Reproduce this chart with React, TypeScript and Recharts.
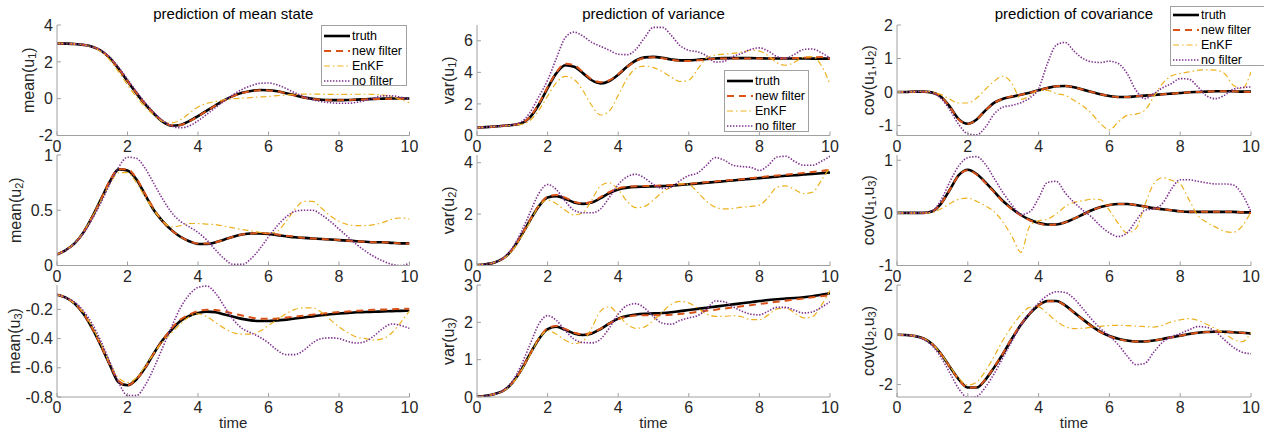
import React from 'react'
import { LineChart, Line, XAxis, YAxis } from 'recharts'

// time grid shared by every panel
const T = [0, 0.25, 0.5, 0.75, 1, 1.25, 1.5, 1.75, 2, 2.25, 2.5, 2.75, 3, 3.25, 3.5, 3.75, 4, 4.25, 4.5, 4.75, 5,
  5.25, 5.5, 5.75, 6, 6.25, 6.5, 6.75, 7, 7.25, 7.5, 7.75, 8, 8.25, 8.5, 8.75, 9, 9.25, 9.5, 9.75, 10]
const X_TICKS = [0, 2, 4, 6, 8, 10]

// mean(u1)
const meanU1Truth = [3.00, 2.99, 2.97, 2.92, 2.82, 2.60, 2.20, 1.62, 0.95, 0.30, -0.30, -0.82, -1.25, -1.47, -1.43, -1.22, -0.95, -0.65, -0.36, -0.08, 0.15, 0.32, 0.42, 0.47, 0.46, 0.40, 0.30, 0.18, 0.07, -0.01, -0.06, -0.08, -0.08, -0.07, -0.05, -0.03, -0.01, 0.00, 0.01, 0.01, 0.01]
const meanU1New = [3.00, 2.99, 2.97, 2.92, 2.82, 2.61, 2.21, 1.63, 0.96, 0.31, -0.29, -0.81, -1.24, -1.46, -1.43, -1.23, -0.96, -0.66, -0.37, -0.09, 0.14, 0.31, 0.41, 0.46, 0.45, 0.39, 0.29, 0.17, 0.06, -0.02, -0.06, -0.08, -0.08, -0.07, -0.05, -0.03, -0.02, -0.01, 0.00, 0.00, 0.00]
const meanU1Enkf = [3.00, 2.99, 2.97, 2.92, 2.80, 2.55, 2.10, 1.45, 0.75, 0.10, -0.45, -0.90, -1.22, -1.32, -1.15, -0.80, -0.45, -0.26, -0.15, -0.06, 0.00, 0.03, 0.06, 0.09, 0.12, 0.16, 0.20, 0.23, 0.25, 0.25, 0.24, 0.23, 0.23, 0.23, 0.24, 0.24, 0.23, 0.20, 0.12, -0.05, -0.22]
const meanU1NoF = [3.00, 2.99, 2.97, 2.92, 2.82, 2.62, 2.25, 1.70, 1.05, 0.40, -0.22, -0.75, -1.18, -1.48, -1.58, -1.48, -1.20, -0.85, -0.48, -0.12, 0.22, 0.50, 0.70, 0.83, 0.85, 0.75, 0.55, 0.32, 0.12, -0.05, -0.16, -0.22, -0.25, -0.25, -0.20, -0.10, 0.05, 0.15, 0.15, 0.08, -0.02]

// mean(u2)
const meanU2Truth = [0.10, 0.14, 0.20, 0.30, 0.44, 0.60, 0.76, 0.87, 0.86, 0.78, 0.64, 0.50, 0.40, 0.32, 0.26, 0.22, 0.195, 0.195, 0.21, 0.235, 0.26, 0.28, 0.29, 0.29, 0.285, 0.275, 0.265, 0.255, 0.25, 0.245, 0.24, 0.235, 0.23, 0.225, 0.22, 0.215, 0.21, 0.21, 0.205, 0.20, 0.20]
const meanU2New = [0.10, 0.14, 0.20, 0.30, 0.44, 0.60, 0.77, 0.87, 0.87, 0.79, 0.65, 0.51, 0.40, 0.32, 0.26, 0.22, 0.20, 0.20, 0.21, 0.235, 0.26, 0.28, 0.29, 0.295, 0.29, 0.28, 0.27, 0.26, 0.25, 0.245, 0.24, 0.235, 0.23, 0.225, 0.22, 0.215, 0.21, 0.21, 0.205, 0.20, 0.20]
const meanU2Enkf = [0.10, 0.14, 0.20, 0.30, 0.44, 0.59, 0.74, 0.84, 0.84, 0.75, 0.62, 0.50, 0.40, 0.35, 0.36, 0.38, 0.38, 0.375, 0.37, 0.355, 0.34, 0.325, 0.315, 0.30, 0.29, 0.31, 0.40, 0.51, 0.58, 0.58, 0.52, 0.45, 0.40, 0.37, 0.36, 0.36, 0.37, 0.39, 0.42, 0.43, 0.42]
const meanU2NoF = [0.10, 0.14, 0.20, 0.29, 0.42, 0.57, 0.74, 0.89, 0.98, 0.97, 0.88, 0.74, 0.60, 0.48, 0.40, 0.35, 0.30, 0.23, 0.14, 0.06, 0.01, 0.01, 0.06, 0.15, 0.26, 0.36, 0.44, 0.49, 0.50, 0.50, 0.46, 0.40, 0.33, 0.26, 0.19, 0.13, 0.08, 0.04, 0.01, 0.00, 0.02]

// mean(u3)
const meanU3Truth = [-0.10, -0.12, -0.16, -0.23, -0.33, -0.45, -0.58, -0.70, -0.72, -0.68, -0.60, -0.50, -0.41, -0.34, -0.28, -0.245, -0.225, -0.215, -0.22, -0.235, -0.25, -0.265, -0.275, -0.28, -0.28, -0.275, -0.27, -0.262, -0.255, -0.248, -0.24, -0.233, -0.228, -0.224, -0.22, -0.218, -0.216, -0.214, -0.212, -0.21, -0.208]
const meanU3New = [-0.10, -0.12, -0.16, -0.23, -0.33, -0.45, -0.58, -0.69, -0.72, -0.68, -0.60, -0.50, -0.41, -0.33, -0.27, -0.235, -0.212, -0.203, -0.205, -0.215, -0.228, -0.242, -0.255, -0.263, -0.265, -0.262, -0.256, -0.25, -0.243, -0.236, -0.23, -0.224, -0.218, -0.214, -0.21, -0.206, -0.203, -0.201, -0.199, -0.197, -0.195]
const meanU3Enkf = [-0.10, -0.12, -0.16, -0.22, -0.32, -0.44, -0.57, -0.67, -0.70, -0.67, -0.59, -0.50, -0.42, -0.36, -0.30, -0.25, -0.23, -0.25, -0.29, -0.33, -0.36, -0.37, -0.37, -0.35, -0.31, -0.27, -0.23, -0.20, -0.19, -0.19, -0.22, -0.27, -0.32, -0.36, -0.39, -0.40, -0.41, -0.40, -0.36, -0.29, -0.21]
const meanU3NoF = [-0.10, -0.12, -0.15, -0.21, -0.30, -0.42, -0.56, -0.70, -0.79, -0.79, -0.72, -0.60, -0.46, -0.32, -0.19, -0.10, -0.05, -0.04, -0.09, -0.18, -0.27, -0.33, -0.36, -0.39, -0.43, -0.48, -0.51, -0.51, -0.48, -0.43, -0.40, -0.395, -0.40, -0.42, -0.43, -0.42, -0.38, -0.33, -0.30, -0.31, -0.33]

// var(u1)
const varU1Truth = [0.50, 0.53, 0.57, 0.62, 0.67, 0.76, 1.15, 1.95, 3.00, 3.95, 4.45, 4.35, 3.95, 3.50, 3.30, 3.45, 3.85, 4.35, 4.75, 4.95, 4.98, 4.92, 4.82, 4.76, 4.76, 4.80, 4.85, 4.88, 4.90, 4.90, 4.90, 4.90, 4.89, 4.88, 4.88, 4.88, 4.88, 4.88, 4.87, 4.87, 4.87]
const varU1New = [0.50, 0.53, 0.57, 0.62, 0.67, 0.77, 1.18, 2.00, 3.05, 4.00, 4.55, 4.45, 4.02, 3.55, 3.38, 3.50, 3.88, 4.35, 4.72, 4.92, 4.96, 4.90, 4.80, 4.73, 4.72, 4.76, 4.82, 4.86, 4.88, 4.88, 4.88, 4.88, 4.88, 4.88, 4.88, 4.89, 4.90, 4.92, 4.95, 4.97, 4.85]
const varU1Enkf = [0.50, 0.53, 0.57, 0.61, 0.65, 0.70, 0.95, 1.60, 2.50, 3.35, 3.75, 3.55, 2.85, 1.90, 1.30, 1.55, 2.55, 3.60, 4.25, 4.40, 4.30, 4.05, 3.70, 3.42, 3.50, 4.20, 4.90, 5.10, 5.15, 5.20, 5.28, 5.40, 5.35, 5.05, 4.60, 4.45, 4.65, 4.95, 5.00, 4.45, 3.25]
const varU1NoF = [0.50, 0.53, 0.57, 0.62, 0.68, 0.85, 1.45, 2.45, 3.50, 4.90, 6.20, 6.55, 6.30, 5.90, 5.65, 5.40, 5.15, 5.12, 5.45, 6.20, 6.85, 6.85, 6.35, 5.70, 5.40, 5.30, 5.05, 4.65, 4.70, 5.00, 5.20, 5.45, 5.55, 5.35, 5.00, 4.90, 5.15, 5.45, 5.48, 5.25, 4.90]

// var(u2)
const varU2Truth = [0.02, 0.05, 0.12, 0.28, 0.62, 1.15, 1.75, 2.30, 2.65, 2.70, 2.60, 2.45, 2.40, 2.45, 2.62, 2.82, 2.96, 3.03, 3.06, 3.07, 3.08, 3.09, 3.11, 3.13, 3.16, 3.19, 3.22, 3.25, 3.28, 3.31, 3.34, 3.37, 3.40, 3.43, 3.46, 3.49, 3.51, 3.54, 3.56, 3.59, 3.62]
const varU2New = [0.02, 0.05, 0.12, 0.28, 0.62, 1.15, 1.76, 2.32, 2.68, 2.74, 2.64, 2.48, 2.42, 2.48, 2.66, 2.86, 3.00, 3.06, 3.08, 3.09, 3.10, 3.11, 3.13, 3.15, 3.18, 3.21, 3.24, 3.27, 3.30, 3.33, 3.36, 3.40, 3.43, 3.47, 3.50, 3.53, 3.57, 3.60, 3.64, 3.68, 3.72]
const varU2Enkf = [0.02, 0.05, 0.12, 0.27, 0.58, 1.10, 1.70, 2.30, 2.55, 2.40, 2.15, 1.97, 2.05, 2.55, 3.10, 3.22, 2.95, 2.50, 2.25, 2.30, 2.55, 2.85, 3.05, 3.18, 3.15, 2.85, 2.50, 2.27, 2.20, 2.22, 2.27, 2.30, 2.35, 2.65, 3.05, 3.10, 2.95, 2.80, 2.85, 3.30, 3.85]
const varU2NoF = [0.02, 0.05, 0.12, 0.30, 0.68, 1.30, 2.05, 2.80, 3.15, 2.95, 2.50, 2.15, 2.05, 2.05, 2.20, 2.65, 3.15, 3.45, 3.55, 3.40, 3.15, 3.00, 3.05, 3.30, 3.50, 3.60, 3.90, 4.20, 4.10, 3.90, 3.85, 3.82, 3.70, 3.90, 4.22, 4.25, 4.05, 3.90, 3.90, 4.05, 4.25]

// var(u3)
const varU3Truth = [0.01, 0.03, 0.08, 0.17, 0.38, 0.72, 1.15, 1.55, 1.82, 1.88, 1.80, 1.70, 1.66, 1.70, 1.82, 1.97, 2.10, 2.17, 2.21, 2.23, 2.24, 2.25, 2.27, 2.30, 2.33, 2.36, 2.39, 2.42, 2.45, 2.48, 2.51, 2.54, 2.57, 2.60, 2.62, 2.64, 2.65, 2.67, 2.70, 2.74, 2.78]
const varU3New = [0.01, 0.03, 0.08, 0.17, 0.38, 0.72, 1.15, 1.56, 1.84, 1.90, 1.82, 1.72, 1.68, 1.72, 1.83, 1.97, 2.09, 2.15, 2.18, 2.19, 2.19, 2.19, 2.20, 2.22, 2.25, 2.28, 2.31, 2.34, 2.37, 2.40, 2.43, 2.46, 2.49, 2.52, 2.55, 2.58, 2.61, 2.64, 2.67, 2.70, 2.73]
const varU3Enkf = [0.01, 0.03, 0.08, 0.16, 0.36, 0.70, 1.12, 1.55, 1.78, 1.68, 1.52, 1.43, 1.50, 1.85, 2.30, 2.42, 2.20, 1.95, 1.84, 1.88, 2.05, 2.28, 2.48, 2.56, 2.52, 2.38, 2.22, 2.16, 2.16, 2.18, 2.15, 2.07, 2.07, 2.20, 2.36, 2.38, 2.25, 2.12, 2.15, 2.45, 2.85]
const varU3NoF = [0.01, 0.03, 0.08, 0.18, 0.42, 0.85, 1.40, 1.95, 2.18, 2.05, 1.78, 1.55, 1.46, 1.45, 1.55, 1.85, 2.22, 2.45, 2.50, 2.38, 2.15, 1.98, 1.95, 2.05, 2.12, 2.18, 2.35, 2.57, 2.55, 2.42, 2.30, 2.22, 2.20, 2.30, 2.40, 2.40, 2.32, 2.25, 2.28, 2.40, 2.55]

// cov(u1,u2)
const cov12Truth = [0.00, 0.00, 0.01, 0.01, -0.02, -0.15, -0.45, -0.82, -0.95, -0.82, -0.55, -0.32, -0.20, -0.14, -0.08, -0.02, 0.05, 0.12, 0.17, 0.18, 0.14, 0.07, 0.00, -0.07, -0.12, -0.15, -0.15, -0.13, -0.11, -0.09, -0.07, -0.05, -0.03, -0.01, 0.00, 0.01, 0.02, 0.02, 0.02, 0.01, 0.01]
const cov12New = [0.00, 0.00, 0.01, 0.01, -0.02, -0.15, -0.46, -0.83, -0.96, -0.82, -0.55, -0.32, -0.20, -0.13, -0.08, -0.02, 0.05, 0.12, 0.17, 0.18, 0.14, 0.07, 0.00, -0.07, -0.12, -0.15, -0.15, -0.13, -0.11, -0.09, -0.07, -0.05, -0.03, -0.01, 0.00, 0.01, 0.02, 0.02, 0.02, 0.01, 0.00]
const cov12Enkf = [0.00, 0.00, 0.01, 0.02, 0.00, -0.08, -0.22, -0.33, -0.33, -0.18, 0.08, 0.33, 0.47, 0.25, -0.22, -0.12, 0.05, 0.05, -0.05, -0.10, -0.25, -0.42, -0.65, -0.95, -1.13, -0.90, -0.70, -0.66, -0.55, -0.15, 0.25, 0.48, 0.55, 0.60, 0.65, 0.66, 0.65, 0.55, 0.20, 0.10, 0.60]
const cov12NoF = [0.00, 0.00, 0.01, 0.01, -0.03, -0.20, -0.55, -0.98, -1.25, -1.28, -1.05, -0.65, -0.45, -0.40, -0.32, -0.18, 0.10, 0.85, 1.40, 1.48, 1.22, 1.00, 0.90, 0.88, 0.92, 0.85, 0.55, 0.05, -0.20, -0.05, 0.12, 0.25, 0.40, 0.38, 0.15, -0.12, -0.20, -0.10, 0.08, 0.13, 0.15]

// cov(u1,u3)
const cov13Truth = [0.00, 0.00, 0.00, 0.00, 0.03, 0.18, 0.45, 0.72, 0.82, 0.74, 0.58, 0.40, 0.22, 0.08, -0.04, -0.13, -0.19, -0.22, -0.22, -0.18, -0.11, -0.03, 0.05, 0.11, 0.15, 0.17, 0.17, 0.15, 0.12, 0.09, 0.07, 0.05, 0.03, 0.02, 0.02, 0.02, 0.02, 0.02, 0.02, 0.01, 0.01]
const cov13New = [0.00, 0.00, 0.00, 0.00, 0.03, 0.18, 0.45, 0.72, 0.81, 0.73, 0.57, 0.39, 0.21, 0.07, -0.05, -0.14, -0.20, -0.23, -0.22, -0.18, -0.11, -0.03, 0.05, 0.11, 0.15, 0.17, 0.17, 0.15, 0.12, 0.09, 0.07, 0.05, 0.03, 0.02, 0.02, 0.02, 0.02, 0.02, 0.02, 0.01, 0.00]
const cov13Enkf = [0.00, 0.00, 0.00, 0.00, 0.01, 0.08, 0.18, 0.26, 0.28, 0.22, 0.13, 0.02, -0.18, -0.45, -0.75, -0.25, -0.15, -0.12, -0.02, 0.12, 0.20, 0.23, 0.26, 0.25, 0.05, -0.20, -0.38, -0.30, 0.15, 0.55, 0.67, 0.62, 0.55, 0.25, -0.05, -0.18, -0.27, -0.35, -0.37, -0.25, 0.02]
const cov13NoF = [0.00, 0.00, 0.00, 0.00, 0.04, 0.25, 0.60, 0.90, 1.05, 1.07, 0.92, 0.65, 0.38, 0.15, -0.03, 0.02, 0.28, 0.58, 0.60, 0.38, 0.20, 0.05, -0.08, -0.25, -0.38, -0.45, -0.38, -0.15, 0.05, 0.08, 0.18, 0.45, 0.63, 0.63, 0.60, 0.57, 0.55, 0.55, 0.53, 0.35, 0.02]

// cov(u2,u3)
const cov23Truth = [0.00, -0.01, -0.05, -0.15, -0.38, -0.78, -1.30, -1.80, -2.12, -2.12, -1.80, -1.30, -0.75, -0.15, 0.40, 0.85, 1.18, 1.36, 1.36, 1.18, 0.90, 0.62, 0.35, 0.12, -0.05, -0.16, -0.23, -0.27, -0.27, -0.23, -0.17, -0.10, -0.04, 0.03, 0.08, 0.11, 0.12, 0.12, 0.10, 0.08, 0.05]
const cov23New = [0.00, -0.01, -0.05, -0.15, -0.38, -0.79, -1.31, -1.81, -2.12, -2.11, -1.79, -1.28, -0.73, -0.13, 0.42, 0.86, 1.18, 1.35, 1.35, 1.17, 0.89, 0.61, 0.34, 0.11, -0.06, -0.17, -0.24, -0.27, -0.27, -0.23, -0.17, -0.10, -0.04, 0.03, 0.08, 0.11, 0.12, 0.12, 0.10, 0.08, 0.06]
const cov23Enkf = [0.00, -0.01, -0.05, -0.15, -0.38, -0.78, -1.28, -1.75, -2.02, -1.90, -1.45, -0.85, -0.20, 0.35, 0.80, 1.10, 1.12, 0.85, 0.55, 0.33, 0.25, 0.26, 0.30, 0.34, 0.37, 0.38, 0.37, 0.35, 0.33, 0.31, 0.38, 0.52, 0.60, 0.65, 0.58, 0.42, 0.25, 0.05, -0.18, -0.28, 0.10]
const cov23NoF = [0.00, -0.01, -0.05, -0.17, -0.45, -0.92, -1.55, -2.18, -2.52, -2.48, -2.10, -1.55, -0.90, -0.25, 0.38, 0.88, 1.28, 1.58, 1.73, 1.70, 1.45, 1.05, 0.62, 0.25, -0.05, -0.40, -0.85, -1.20, -1.15, -0.70, -0.30, -0.08, 0.05, 0.20, 0.33, 0.30, 0.12, -0.20, -0.50, -0.70, -0.76]

const TITLES = ['prediction of mean state', 'prediction of variance', 'prediction of covariance']

const FONT = '"Liberation Sans", Arial, Helvetica, sans-serif'
const AXIS = '#a0a0a0'
const INK = '#262626'

// geometry of the 3x3 grid of plot boxes (page pixels)
const COL_X = [57, 477, 897]
const COL_W = [352.5, 353, 354]
const ROW_Y = [24.5, 155, 285]
const ROW_H = [110.5, 110.5, 112]
const YW = 60
const MT = 10
const MR = 12

const SERIES = [
  { key: 'truth', name: 'truth', color: '#000000', width: 2.6, dash: undefined as string | undefined },
  { key: 'nf', name: 'new filter', color: '#D95319', width: 2, dash: '7 5' },
  { key: 'enkf', name: 'EnKF', color: '#EDB120', width: 1.2, dash: '6 3 1.5 3' },
  { key: 'nof', name: 'no filter', color: '#7E2F8E', width: 1.6, dash: '1.4 1.6' },
]

interface Panel {
  fn: string
  idx: string[]
  data: number[][]
  domain: [number, number]
  ticks: number[]
  labelGap?: number
}

const PANELS: Panel[][] = [
  [
    { fn: 'mean', idx: ['1'], data: [meanU1Truth, meanU1New, meanU1Enkf, meanU1NoF], domain: [-2, 4], ticks: [-2, 0, 2, 4] },
    { fn: 'var', idx: ['1'], data: [varU1Truth, varU1New, varU1Enkf, varU1NoF], domain: [0, 7], ticks: [0, 2, 4, 6] },
    { fn: 'cov', idx: ['1', '2'], data: [cov12Truth, cov12New, cov12Enkf, cov12NoF], domain: [-1.3, 2], ticks: [-1, 0, 1, 2] },
  ],
  [
    { fn: 'mean', idx: ['2'], data: [meanU2Truth, meanU2New, meanU2Enkf, meanU2NoF], domain: [0, 1], ticks: [0, 0.5, 1], labelGap: 42 },
    { fn: 'var', idx: ['2'], data: [varU2Truth, varU2New, varU2Enkf, varU2NoF], domain: [0, 4.3], ticks: [0, 2, 4] },
    { fn: 'cov', idx: ['1', '3'], data: [cov13Truth, cov13New, cov13Enkf, cov13NoF], domain: [-1, 1.1], ticks: [-1, 0, 1] },
  ],
  [
    { fn: 'mean', idx: ['3'], data: [meanU3Truth, meanU3New, meanU3Enkf, meanU3NoF], domain: [-0.8, -0.033], ticks: [-0.8, -0.6, -0.4, -0.2], labelGap: 43 },
    { fn: 'var', idx: ['3'], data: [varU3Truth, varU3New, varU3Enkf, varU3NoF], domain: [0, 3], ticks: [0, 1, 2, 3] },
    { fn: 'cov', idx: ['2', '3'], data: [cov23Truth, cov23New, cov23Enkf, cov23NoF], domain: [-2.5, 2], ticks: [-2, 0, 2] },
  ],
]

const YLabel = ({ viewBox, fn, idx, gap }: any) => {
  const vb = viewBox || { x: 0, y: MT, width: YW, height: 110 }
  const cx = vb.x + vb.width - gap
  const cy = vb.y + vb.height / 2
  const parts: Array<{ t: string; dy: number; small?: boolean }> = []
  idx.forEach((s: string, i: number) => {
    parts.push({ t: i === 0 ? `${fn}(u` : ',u', dy: i === 0 ? 0 : -4 })
    parts.push({ t: s, dy: 4, small: true })
  })
  parts.push({ t: ')', dy: -4 })
  return (
    <text transform={`translate(${cx},${cy}) rotate(-90)`} textAnchor="middle" dominantBaseline="central"
      fontSize={16} fill={INK} fontFamily={FONT}>
      {parts.map((p, i) => (
        <tspan key={i} dy={p.dy} fontSize={p.small ? 11 : 16}>{p.t}</tspan>
      ))}
    </text>
  )
}

const TimeLabel = ({ viewBox }: any) => {
  const vb = viewBox || { x: YW, y: 0, width: 350, height: 40 }
  return (
    <text x={vb.x + vb.width / 2} y={vb.y + 25} textAnchor="middle" dominantBaseline="central"
      fontSize={15} fill={INK} fontFamily={FONT}>time</text>
  )
}

function PanelChart({ panel, row, col }: { panel: Panel; row: number; col: number }) {
  const w = COL_W[col]
  const h = ROW_H[row]
  const bottom = row === 2
  const xh = bottom ? 40 : 22
  const rows = T.map((t, i) => ({
    t,
    truth: panel.data[0][i],
    nf: panel.data[1][i],
    enkf: panel.data[2][i],
    nof: panel.data[3][i],
  }))
  const tickStyle = { fontSize: 16, fill: INK, fontFamily: FONT }
  return (
    <div style={{ position: 'absolute', left: COL_X[col] - YW, top: ROW_Y[row] - MT }}>
      <LineChart width={YW + w + MR} height={MT + h + xh} data={rows}
        margin={{ top: MT, right: MR, bottom: 0, left: 0 }}>
        <XAxis dataKey="t" type="number" domain={[0, 10]} ticks={X_TICKS} interval={0} allowDataOverflow
          height={xh} stroke={AXIS} tick={tickStyle} tickSize={-4} tickMargin={9}
          label={bottom ? <TimeLabel /> : undefined} />
        <XAxis xAxisId="top" orientation="top" dataKey="t" type="number" domain={[0, 10]} ticks={X_TICKS}
          interval={0} allowDataOverflow height={0} stroke={AXIS} tickSize={-4} tickFormatter={() => ''} />
        <YAxis type="number" domain={panel.domain} ticks={panel.ticks} interval={0} allowDataOverflow
          width={YW} stroke={AXIS} tick={tickStyle} tickSize={-4} tickMargin={8}
          label={<YLabel fn={panel.fn} idx={panel.idx} gap={panel.labelGap ?? 29} />} />
        <YAxis yAxisId="right" orientation="right" type="number" domain={panel.domain} ticks={panel.ticks}
          interval={0} allowDataOverflow width={0} stroke={AXIS} tickSize={-4} tickFormatter={() => ''} />
        {SERIES.map(s => (
          <Line key={s.key} type="monotone" dataKey={s.key} stroke={s.color} strokeWidth={s.width}
            strokeDasharray={s.dash} dot={false} activeDot={false} isAnimationActive={false} />
        ))}
      </LineChart>
    </div>
  )
}

function LegendBox({ left, top, width, height, first }: { left: number; top: number; width: number; height: number; first: number }) {
  return (
    <div style={{
      position: 'absolute', left, top, width, height, boxSizing: 'border-box',
      border: `1px solid ${AXIS}`, background: '#fff', fontFamily: FONT, fontSize: 12.5, color: '#000',
    }}>
      {SERIES.map((s, i) => (
        <div key={s.key} style={{ position: 'absolute', left: 0, top: first + 15 * i - 8, height: 16, width: width - 2 }}>
          <svg width={30} height={16} style={{ position: 'absolute', left: 0, top: 0 }}>
            <line x1={2} x2={28} y1={8} y2={8} stroke={s.color} strokeWidth={s.width} strokeDasharray={s.dash} />
          </svg>
          <span style={{ position: 'absolute', left: 30, top: 0, lineHeight: '16px', whiteSpace: 'nowrap' }}>{s.name}</span>
        </div>
      ))}
    </div>
  )
}

export default function App() {
  return (
    <div style={{ position: 'absolute', left: 0, top: 0, width: 1264, height: 431, overflow: 'hidden', background: '#fff' }}>
      {PANELS.map((r, ri) => r.map((p, ci) => <PanelChart key={`${ri}-${ci}`} panel={p} row={ri} col={ci} />))}
      {TITLES.map((t, ci) => (
        <div key={t} style={{
          position: 'absolute', left: COL_X[ci], width: COL_W[ci], top: 5, textAlign: 'center',
          fontFamily: FONT, fontSize: 15, lineHeight: '18px', color: '#000',
        }}>{t}</div>
      ))}
      <LegendBox left={321} top={25} width={86} height={61} first={10} />
      <LegendBox left={724} top={70} width={85} height={62} first={10} />
      <LegendBox left={1170} top={6} width={96} height={60} first={8} />
    </div>
  )
}
